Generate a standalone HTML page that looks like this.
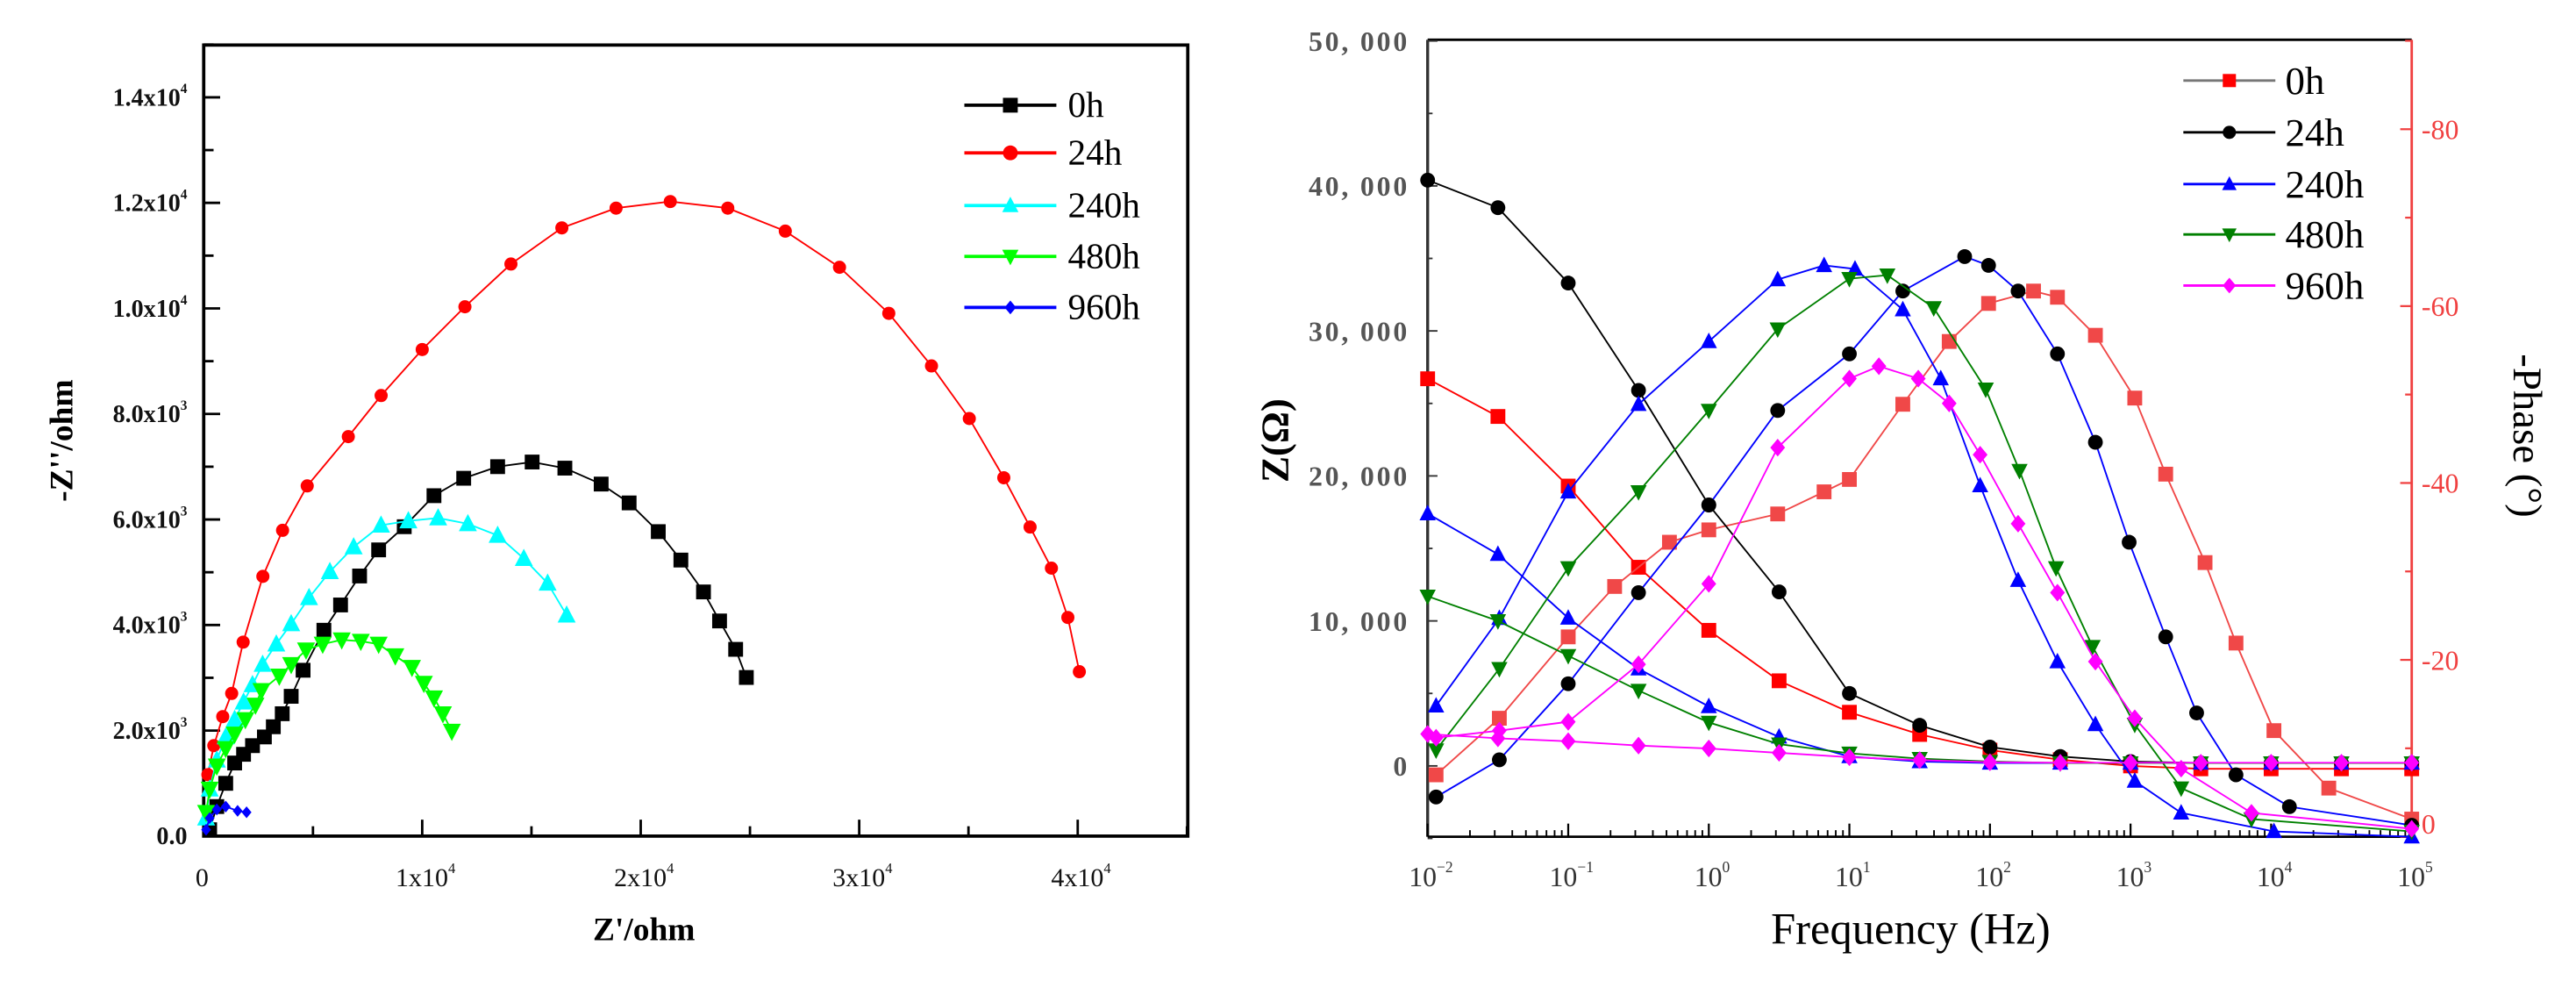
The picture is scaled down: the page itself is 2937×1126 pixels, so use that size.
<!DOCTYPE html>
<html><head><meta charset="utf-8"><style>
html,body{margin:0;padding:0;background:#fff;}
svg{display:block;}
svg text{font-family:"Liberation Serif","DejaVu Serif",serif;}
</style></head>
<body>
<svg id="fig" width="2937" height="1126" viewBox="0 0 1568 601" preserveAspectRatio="none" xmlns="http://www.w3.org/2000/svg"></svg>
<script>
// ---------- Nyquist data (left chart) ----------
const nyqNames = ["0h","24h","240h","480h","960h"];
const nyq0hRe = [272,599,1008,1416,1824,2233,2777,3186,3594,4003,4548,5500,6263,7134,8006,9177,10538,11899,13452,15031,16529,18190,19470,20804,21838,22873,23609,24345,24834];
const nyq0hIm = [121,560,1000,1385,1550,1714,1879,2072,2319,2649,3143,3901,4380,4929,5424,5863,6451,6781,7001,7089,6973,6671,6314,5770,5231,4627,4077,3539,3006];
const nyq24hRe = [191,463,871,1280,1805,2707,3609,4737,6617,8120,10000,11955,14060,16391,18872,21353,23985,26617,29098,31353,33308,35038,36617,37820,38797,39549,40075];
const nyq24hIm = [1165,1714,2264,2704,3676,4922,5794,6636,7570,8349,9221,10031,10841,11526,11900,12025,11900,11464,10779,9907,8910,7913,6791,5857,5078,4143,3115];
const nyq240hRe = [109,272,599,1008,1416,1824,2233,2696,3322,4003,4820,5773,6862,8115,9367,10729,12090,13452,14650,15739,16610];
const nyq240hIm = [341,890,1440,1879,2209,2539,2868,3253,3638,4022,4517,5011,5479,5891,5973,6028,5918,5698,5259,4792,4187];
const nyq480hRe = [109,272,599,1008,1416,1906,2369,2641,3458,4003,4684,5446,6317,7189,8006,8768,9531,10075,10538,10947,11355];
const nyq480hIm = [451,890,1330,1660,1934,2209,2484,2759,3033,3253,3528,3638,3720,3693,3638,3418,3198,2896,2621,2319,1989];
const nyq960hRe = [109,272,599,1008,1552,1961];
const nyq960hIm = [121,341,505,560,478,451];
const nyqXTicks = [0,10000,20000,30000,40000];
const nyqXLabels = ["0","1x10|4","2x10|4","3x10|4","4x10|4"];
const nyqYTicks = [0,2000,4000,6000,8000,10000,12000,14000];
const nyqYLabels = ["0.0","2.0x10|3","4.0x10|3","6.0x10|3","8.0x10|3","1.0x10|4","1.2x10|4","1.4x10|4"];

// ---------- Bode data (right chart) ----------
const bodeNames = ["0h","24h","240h","480h","960h"];
const zLogF = [-2,-1.5,-1,-0.5,0,0.5,1,1.5,2,2.5,3,3.5,4,4.5,5];
const z0h   = [26700,24100,19300,13700,9350,5870,3700,2170,1090,430,0,-200,-200,-200,-200];
const z24h  = [40400,38500,33300,25900,18000,12000,5000,2800,1300,650,300,200,200,200,200];
const z240h = [17400,14600,10200,6700,4100,2000,650,300,200,200,200,200,200,200,200];
const z480h = [11700,10000,7600,5200,3000,1500,870,500,300,200,200,200,200,200,200];
const z960h = [2200,1900,1700,1400,1200,900,600,400,250,220,220,220,220,220,220];
const ph0hF  = [-1.94,-1.49,-1.0,-0.67,-0.28,0,0.49,0.82,1.0,1.38,1.71,1.99,2.31,2.48,2.75,3.03,3.25,3.53,3.75,4.02,4.41,5.0];
const ph0h   = [7,13.4,22.6,28.3,33.3,34.7,36.5,39,40.4,48.9,56,60.3,61.7,61,56.7,49.6,41,31,21.9,12,5.5,2];
const ph24hF = [-1.94,-1.49,-1.0,-0.5,0,0.49,1.0,1.38,1.82,1.99,2.2,2.48,2.75,2.99,3.25,3.47,3.75,4.13,5.0];
const ph24h  = [4.5,8.7,17.3,27.6,37.5,48.2,54.6,61.7,65.6,64.6,61.7,54.6,44.6,33.3,22.6,14,7,3.4,1.3];
const ph240hF = [-1.94,-1.49,-1.0,-0.5,0,0.49,0.82,1.04,1.38,1.65,1.93,2.2,2.48,2.75,3.03,3.36,4.02,5.0];
const ph240h  = [14.8,24.7,39,48.9,56,63,64.6,64.2,59.6,51.8,39.7,29,19.8,12.7,6.3,2.7,0.6,0];
const ph480hF = [-1.94,-1.49,-1.0,-0.5,0,0.49,1.0,1.27,1.6,1.97,2.21,2.47,2.73,3.03,3.36,3.86,5.0];
const ph480h  = [9.8,19,30.4,39,48.2,57.4,63.1,63.5,59.8,50.6,41.4,30.4,21.5,12.7,5.5,2,0.6];
const ph960hF = [-1.94,-1.49,-1.0,-0.5,0,0.49,1.0,1.21,1.49,1.71,1.93,2.2,2.48,2.75,3.03,3.36,3.86,5.0];
const ph960h  = [11.2,12,13,19.5,28.6,44,51.8,53.2,51.8,49,43.2,35.4,27.6,19.8,13.4,7.7,2.7,0.9];
const zTicks = [0,10000,20000,30000,40000,50000];
const zLabels = ["0","10, 000","20, 000","30, 000","40, 000","50, 000"];
const phTicks = [0,20,40,60,80];
const phLabels = ["0","-20","-40","-60","-80"];
const decades = [-2,-1,0,1,2,3,4,5];

const NS="http://www.w3.org/2000/svg";
const svg=document.getElementById('fig');
function mk(tag,attrs,parent){const e=document.createElementNS(NS,tag);for(const k in attrs)e.setAttribute(k,attrs[k]);(parent||svg).appendChild(e);return e;}
function supText(parent,x,y,str,size,anchor,fill,weight){
  const t=mk('text',{x:x,y:y,'font-size':size,'text-anchor':anchor,fill:fill,'font-weight':weight},parent);
  const p=str.split('|');
  const a=document.createElementNS(NS,'tspan');a.textContent=p[0];t.appendChild(a);
  if(p.length>1){const b=document.createElementNS(NS,'tspan');b.setAttribute('dy',-size*0.5);b.setAttribute('font-size',size*0.55);b.textContent=p[1];t.appendChild(b);}
  return t;
}
function marker(g,shape,x,y,s,fill){
  let e;
  if(shape==='square')e=mk('rect',{x:x-s/2,y:y-s/2,width:s,height:s,fill:fill},g);
  else if(shape==='circle')e=mk('circle',{cx:x,cy:y,r:s/2,fill:fill},g);
  else if(shape==='up')e=mk('polygon',{points:`${x},${y-s*0.6} ${x-s*0.55},${y+s*0.45} ${x+s*0.55},${y+s*0.45}`,fill:fill},g);
  else if(shape==='down')e=mk('polygon',{points:`${x},${y+s*0.6} ${x-s*0.55},${y-s*0.45} ${x+s*0.55},${y-s*0.45}`,fill:fill},g);
  else e=mk('polygon',{points:`${x},${y-s*0.6} ${x+s*0.5},${y} ${x},${y+s*0.6} ${x-s*0.5},${y}`,fill:fill},g);
  return e;
}
function series(name,xs,ys,fx,fy,color,shape,size,lineColor){
  const g=mk('g',{});
  
  
  const pts=xs.map((v,i)=>fx(v).toFixed(2)+','+fy(ys[i]).toFixed(2)).join(' ');
  mk('polyline',{points:pts,fill:'none',stroke:lineColor||color,'stroke-width':1},g);
  xs.forEach((v,i)=>{
    const m=marker(g,shape,fx(v),fy(ys[i]),size,color);
    
    
  });
}

// ===== Left chart =====
const L={x0:124,x1:723,y0:508.6,yT:27.4};
const nx=v=>L.x0+v/10000*133;
const ny=v=>L.y0-v/2000*64.2;
const lg=mk('g',{});


const lbox=mk('rect',{x:L.x0,y:L.yT,width:L.x1-L.x0,height:L.y0-L.yT,fill:'none',stroke:'#000','stroke-width':2},lg);


for(let v=0;v<=45000;v+=5000){const major=v%10000===0;mk('line',{x1:nx(v),x2:nx(v),y1:L.y0,y2:L.y0-(major?10:6),stroke:'#000','stroke-width':1.5},lg);}
for(let v=0;v<=15000;v+=1000){const major=v%2000===0;mk('line',{x1:L.x0,x2:L.x0+(major?10:6),y1:ny(v),y2:ny(v),stroke:'#000','stroke-width':1.5},lg);}
nyqXTicks.forEach((v,i)=>{const t=supText(lg,nx(v)+(i?2:-1),539,nyqXLabels[i],16,'middle','#111','normal');});
nyqYTicks.forEach((v,i)=>{const t=supText(lg,114,ny(v)+5,nyqYLabels[i],15,'end','#111','bold');});
const lxt=mk('text',{x:392,y:572,'font-size':20,'font-weight':'bold','text-anchor':'middle'},lg);lxt.textContent="Z'/ohm";

const lyt=mk('text',{x:0,y:0,'font-size':20,'font-weight':'bold','text-anchor':'middle',transform:'translate(44,268) rotate(-90)'},lg);lyt.textContent="-Z''/ohm";

const nyqSeries=[[nyq0hRe,nyq0hIm,'#000','square',9],[nyq24hRe,nyq24hIm,'#ff0000','circle',8],[nyq240hRe,nyq240hIm,'#00ffff','up',10],[nyq480hRe,nyq480hIm,'#00ff00','down',10],[nyq960hRe,nyq960hIm,'#0000ff','diamond',6]];
nyqSeries.forEach((s,i)=>series('nyquist-'+nyqNames[i],s[0],s[1],nx,ny,s[2],s[3],s[4]));
const lLegY=[64,93,125,156,187];
nyqSeries.forEach((s,i)=>{
  const g=mk('g',{},lg);
  
  
  mk('line',{x1:587,x2:643,y1:lLegY[i],y2:lLegY[i],stroke:s[2],'stroke-width':2},g);
  marker(g,s[3],615,lLegY[i],s[3]==='diamond'?7:9,s[2]);
  const t=mk('text',{x:650,y:lLegY[i]+7,'font-size':22},g);t.textContent=nyqNames[i];
});

// ===== Right chart =====
const R={x0:869,x1:1468,y0:509,yT:24.2};
const bx=lf=>R.x0+(lf+2)*(R.x1-R.x0)/7;
const bz=v=>465.9-v/10000*88.2;
const bp=v=>509-v*5.38;
const rg=mk('g',{});


mk('line',{x1:R.x0,x2:R.x1,y1:R.yT,y2:R.yT,stroke:'#000','stroke-width':1.5},rg);
mk('line',{x1:R.x0,x2:R.x0,y1:R.yT,y2:R.y0,stroke:'#333','stroke-width':1.8},rg);
mk('line',{x1:R.x0,x2:R.x1,y1:R.y0,y2:R.y0,stroke:'#000','stroke-width':1.5},rg);
mk('line',{x1:R.x1,x2:R.x1,y1:R.yT,y2:R.y0,stroke:'#f04040','stroke-width':1.5},rg);
decades.forEach((d,i)=>{
  mk('line',{x1:bx(d),x2:bx(d),y1:R.y0,y2:R.y0-8,stroke:'#000','stroke-width':1.2},rg);
  if(i<decades.length-1)for(let m=2;m<10;m++){const x=bx(d+Math.log10(m));mk('line',{x1:x,x2:x,y1:R.y0,y2:R.y0-4,stroke:'#000','stroke-width':1},rg);}
  const t=supText(rg,bx(d)+2,539,'10|'+(d<0?'\u2212'+(-d):d),17,'middle','#333','normal');
  
});
for(let v=-5000;v<=50000;v+=5000){mk('line',{x1:R.x0,x2:R.x0+(v%10000===0?6:3),y1:bz(v),y2:bz(v),stroke:'#333','stroke-width':1},rg);}
zTicks.forEach((v,i)=>{const t=mk('text',{x:858,y:bz(v)+6,'font-size':17,'font-weight':'bold','text-anchor':'end',fill:'#555','letter-spacing':'1.5'},rg);t.textContent=zLabels[i];});
for(let v=0;v<=90;v+=10){mk('line',{x1:R.x1,x2:R.x1-(v%20===0?7:4),y1:bp(v),y2:bp(v),stroke:'#f04040','stroke-width':1.2},rg);}
phTicks.forEach((v,i)=>{const t=mk('text',{x:1474,y:bp(v)+(v===0?-2:6),'font-size':17,fill:'#f04040'},rg);t.textContent=phLabels[i];});
const rxt=mk('text',{x:1163,y:574,'font-size':27,'text-anchor':'middle'},rg);rxt.textContent='Frequency (Hz)';

const ryt=mk('text',{x:0,y:0,'font-size':24,'font-weight':'bold','text-anchor':'middle',transform:'translate(784,268) rotate(-90)'},rg);ryt.textContent='Z(\u03A9)';

const rpt=mk('text',{x:0,y:0,'font-size':25,'text-anchor':'middle',transform:'translate(1530,265) rotate(90)'},rg);rpt.textContent='-Phase (\u00B0)';

const bodeStyle=[['#ff0000','square','#ff0000','#f04848'],['#000','circle','#000','#000'],['#0000ff','up','#0000ff','#0000ff'],['#008000','down','#008000','#008000'],['#ff00ff','diamond','#ff00ff','#ff00ff']];
const zData=[z0h,z24h,z240h,z480h,z960h];
const pF=[ph0hF,ph24hF,ph240hF,ph480hF,ph960hF];
const pV=[ph0h,ph24h,ph240h,ph480h,ph960h];
bodeNames.forEach((n,i)=>{
  const s=bodeStyle[i];
  series('modulus-'+n,zLogF,zData[i],bx,bz,s[0],s[1],9);
  series('phase-'+n,pF[i],pV[i],bx,bp,s[3],s[1],9,i===1?'#0000ff':s[3]);
});
const rLegY=[49,80.5,112,142.6,173.7];
bodeNames.forEach((n,i)=>{
  const s=bodeStyle[i];
  const g=mk('g',{},rg);
  
  
  mk('line',{x1:1329,x2:1385,y1:rLegY[i],y2:rLegY[i],stroke:i===0?'#777':s[0],'stroke-width':1.5},g);
  marker(g,s[1],1357,rLegY[i],8,s[0]);
  const t=mk('text',{x:1391,y:rLegY[i]+8,'font-size':24},g);t.textContent=n;
});
</script>
</body></html>
